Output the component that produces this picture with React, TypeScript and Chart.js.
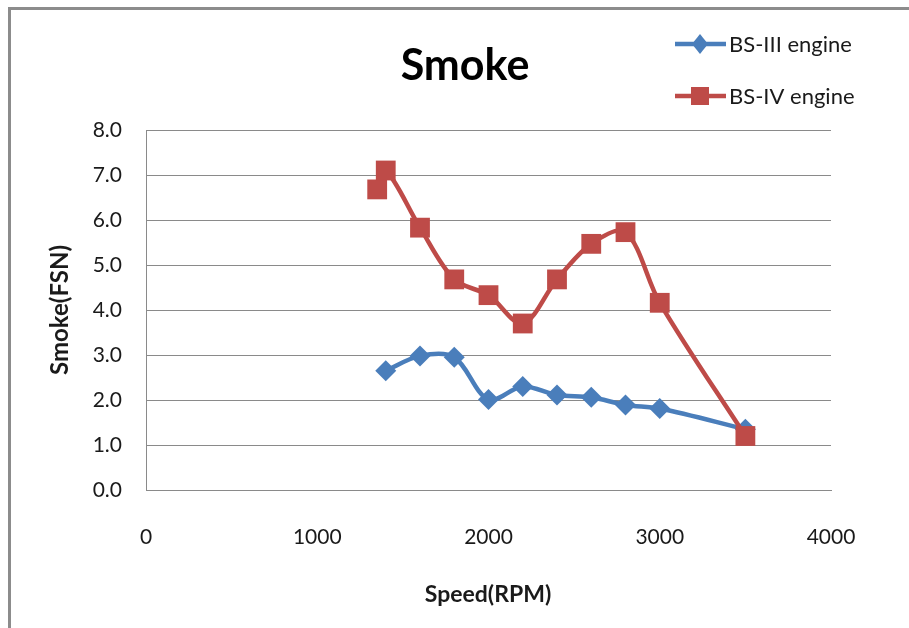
import React, { useEffect, useRef } from "react";
import { Chart, registerables } from "chart.js";

Chart.register(...registerables);

const chartTitle = "Smoke";
const xTitle = "Speed(RPM)";
const yTitle = "Smoke(FSN)";

const bs3Label = "BS-III engine";
const bs3Speed = [1400, 1600, 1800, 2000, 2200, 2400, 2600, 2800, 3000, 3500];
const bs3Smoke = [2.65, 2.98, 2.95, 2.01, 2.3, 2.11, 2.06, 1.89, 1.81, 1.35];

const bs4Label = "BS-IV engine";
const bs4Speed = [1350, 1400, 1600, 1800, 2000, 2200, 2400, 2600, 2800, 3000, 3500];
const bs4Smoke = [6.68, 7.1, 5.83, 4.68, 4.33, 3.7, 4.68, 5.47, 5.73, 4.16, 1.2];

const xMin = 0;
const xMax = 4000;
const xStep = 1000;
const yMin = 0;
const yMax = 8;
const yStep = 1;

const FONT = "Lato, 'Open Sans', sans-serif";
const BLUE = "#4a7ebb";
const RED = "#be4b48";
const GRID = "#8a8a8a";
const TEXT = "#1a1a1a";

const decorPlugin = {
  id: "decor",
  afterDraw(chart: any) {
    const ctx = chart.ctx;
    ctx.save();
    ctx.fillStyle = "#000";
    ctx.textAlign = "center";
    ctx.textBaseline = "alphabetic";
    ctx.font = `bold 43px ${FONT}`;
    ctx.fillText(chartTitle, 465, 80);

    ctx.fillStyle = TEXT;
    ctx.font = `bold 23px ${FONT}`;
    ctx.fillText(xTitle, 488, 602);

    ctx.save();
    ctx.translate(60, 310);
    ctx.rotate(-Math.PI / 2);
    ctx.textBaseline = "middle";
    ctx.font = `bold 24px ${FONT}`;
    ctx.fillText(yTitle, 0, 0);
    ctx.restore();

    // legend
    const items = chart.data.datasets.map((d: any) => d);
    const rows = [44, 96];
    items.forEach((d: any, i: number) => {
      const y = rows[i];
      ctx.strokeStyle = d.borderColor;
      ctx.lineWidth = 4.5;
      ctx.beginPath();
      ctx.moveTo(675, y);
      ctx.lineTo(726, y);
      ctx.stroke();
      ctx.fillStyle = d.pointBackgroundColor;
      ctx.beginPath();
      if (d.pointStyle === "rectRot") {
        ctx.moveTo(700, y - 10);
        ctx.lineTo(708, y);
        ctx.lineTo(700, y + 10);
        ctx.lineTo(692, y);
        ctx.closePath();
      } else {
        ctx.rect(691, y - 9, 18, 18);
      }
      ctx.fill();
      ctx.fillStyle = TEXT;
      ctx.textAlign = "left";
      ctx.textBaseline = "middle";
      ctx.font = `22px ${FONT}`;
      ctx.fillText(d.label, 729, y + 1);
    });
    ctx.restore();
  },
};

export default function App() {
  const ref = useRef<HTMLCanvasElement>(null);

  useEffect(() => {
    document.body.style.margin = "0";
    const toPts = (xs: number[], ys: number[]) => xs.map((x, i) => ({ x, y: ys[i] }));
    const chart = new Chart(ref.current!, {
      type: "scatter",
      data: {
        datasets: [
          {
            label: bs3Label,
            data: toPts(bs3Speed, bs3Smoke),
            showLine: true,
            borderColor: BLUE,
            backgroundColor: BLUE,
            pointBackgroundColor: BLUE,
            pointBorderColor: BLUE,
            borderWidth: 4.5,
            pointStyle: "rectRot",
            pointRadius: 10.5,
            pointBorderWidth: 0,
            tension: 0.33,
            order: 1,
          },
          {
            label: bs4Label,
            data: toPts(bs4Speed, bs4Smoke),
            showLine: true,
            borderColor: RED,
            backgroundColor: RED,
            pointBackgroundColor: RED,
            pointBorderColor: RED,
            borderWidth: 4.5,
            pointStyle: "rect",
            pointRadius: 14,
            pointBorderWidth: 0,
            tension: 0.33,
            order: 0,
          },
        ],
      },
      options: {
        responsive: false,
        animation: false,
        layout: { padding: { top: 130, right: 78, left: 0, bottom: 0 } },
        plugins: {
          legend: { display: false },
          title: { display: false },
          tooltip: { enabled: false },
        },
        scales: {
          x: {
            type: "linear",
            min: xMin,
            max: xMax,
            ticks: {
              stepSize: xStep,
              padding: 35,
              color: TEXT,
              font: { family: FONT, size: 21 },
              maxRotation: 0,
              callback: (v: any) => String(v),
            },
            grid: { display: false, drawTicks: false },
            border: { display: true, color: GRID, width: 1 },
            afterFit: (s: any) => {
              s.height = 628 - 490;
            },
          },
          y: {
            min: yMin,
            max: yMax,
            ticks: {
              stepSize: yStep,
              padding: 24,
              color: TEXT,
              font: { family: FONT, size: 21 },
              callback: (v: any) => Number(v).toFixed(1),
            },
            grid: { color: GRID, lineWidth: 1, drawTicks: false },
            border: { display: true, color: GRID, width: 1 },
            afterFit: (s: any) => {
              s.width = 146;
            },
          },
        },
      },
      plugins: [decorPlugin],
    });
    return () => chart.destroy();
  }, []);

  return (
    <div style={{ position: "fixed", left: 0, top: 0, width: 909, height: 628, background: "#fff" }}>
      <canvas ref={ref} width={909} height={628} style={{ position: "absolute", left: 0, top: 0 }} />
      <div
        style={{
          position: "absolute",
          left: 8,
          top: 7,
          width: 1000,
          height: 1000,
          borderTop: "3px solid #8c8c8c",
          borderLeft: "3px solid #8c8c8c",
          pointerEvents: "none",
        }}
      />
    </div>
  );
}
